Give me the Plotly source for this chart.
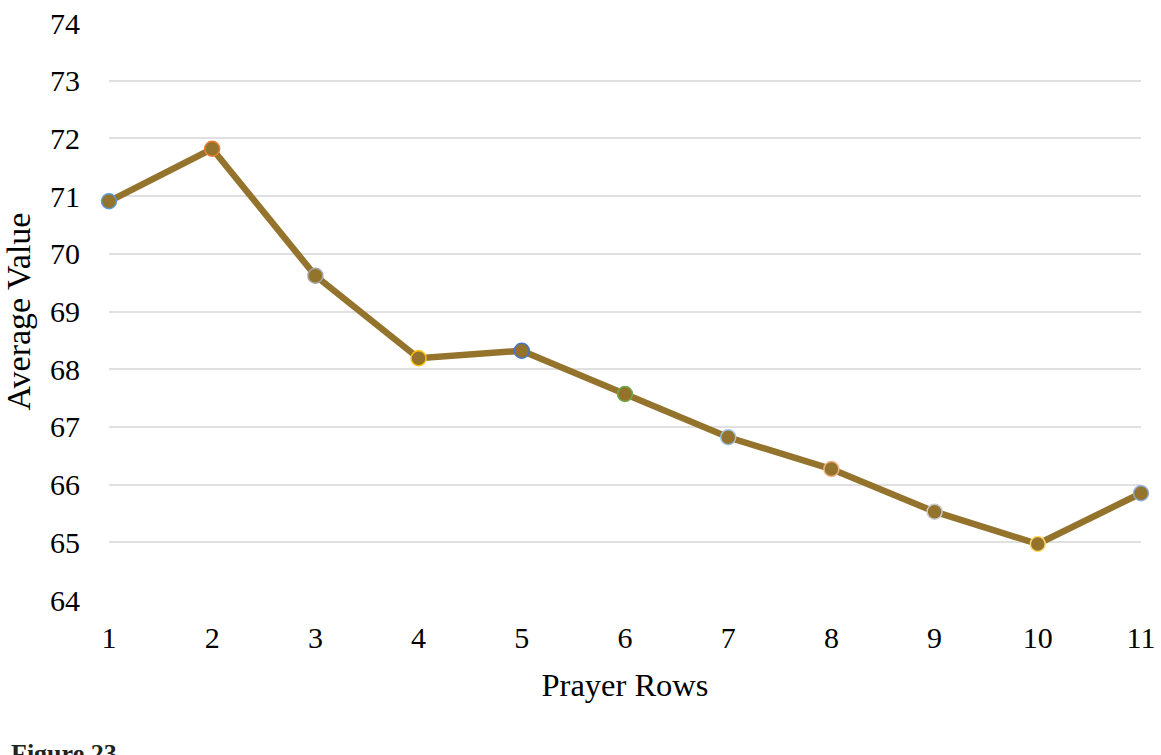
import plotly.graph_objects as go

rows = [1, 2, 3, 4, 5, 6, 7, 8, 9, 10, 11]
avg_values = [70.91, 71.82, 69.62, 68.19, 68.32, 67.57, 66.82, 66.27, 65.53, 64.97, 65.85]
marker_outlines = ["#5B9BD5", "#ED7D31", "#A5A5A5", "#FFC000", "#4472C4", "#70AD47",
                   "#9DC3E6", "#F4B183", "#C9C9C9", "#FFD966", "#8FAADC"]
y_ticks = [64, 65, 66, 67, 68, 69, 70, 71, 72, 73, 74]
x_ticks = rows

LINE = "#94732D"
FONT = "Liberation Serif"

fig = go.Figure()
fig.add_trace(go.Scatter(
    x=rows, y=avg_values, mode="lines+markers",
    line=dict(color=LINE, width=6.5),
    marker=dict(size=15, color=LINE, line=dict(color=marker_outlines, width=1.5)),
    showlegend=False, cliponaxis=False,
))

fig.update_layout(
    width=1161, height=755,
    margin=dict(l=109, r=20, t=23, b=155),
    paper_bgcolor="white", plot_bgcolor="white",
    font=dict(family=FONT, color="#000000", size=30),
    xaxis=dict(range=[1, 11], tickvals=x_ticks, ticktext=[str(v) for v in x_ticks],
               showgrid=False, zeroline=False, showline=False, ticks="", automargin=False,
               tickfont=dict(size=30, family=FONT), ticklabelstandoff=17,
               title=dict(text="Prayer Rows", font=dict(size=32.5, family=FONT), standoff=20)),
    yaxis=dict(range=[64, 74], tickvals=y_ticks, ticktext=[str(v) for v in y_ticks],
               showgrid=True, gridcolor="#E0E0E0", gridwidth=2, zeroline=False,
               showline=False, ticks="", tickfont=dict(size=30, family=FONT), automargin=False,
               ticklabelstandoff=28,
               title=dict(text="Average Value", font=dict(size=34, family=FONT), standoff=12)),
)

fig.add_annotation(
    text="<b>Figure 23</b>", xref="paper", yref="paper",
    x=-0.097, y=-0.2374, xanchor="left", yanchor="top", showarrow=False,
    font=dict(family="Liberation Serif", size=26, color="#222222"),
)

fig.write_html("out.html", config={"displayModeBar": False},
               post_script="document.body.style.margin='0';")
